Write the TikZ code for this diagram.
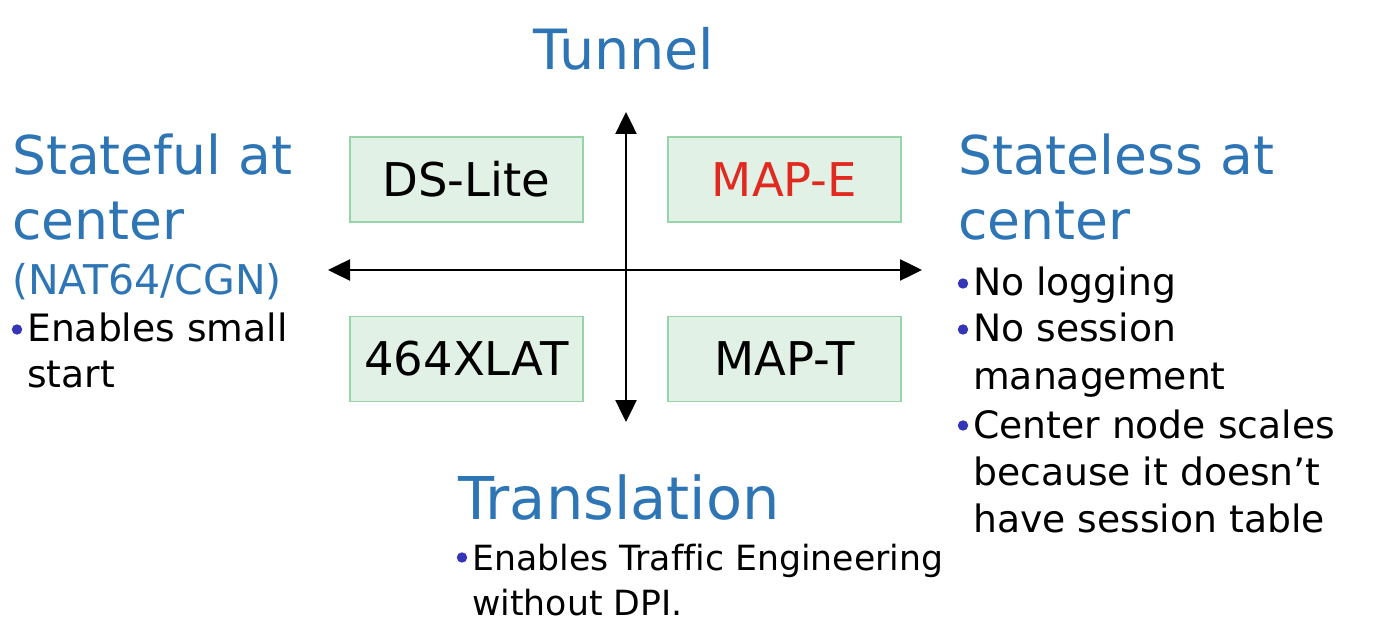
\documentclass[tikz,border=0pt]{standalone}
\usepackage{fontspec}
\setmainfont{DejaVu Sans}[Ligatures=NoCommon]
\usetikzlibrary{arrows.meta}
\definecolor{ttl}{HTML}{2E75B6}
\definecolor{redt}{HTML}{E02A1F}
\definecolor{bulc}{HTML}{3535B8}
\definecolor{boxfill}{HTML}{E2F1E6}
\definecolor{boxline}{HTML}{98D4AA}
\tikzset{
  ttlA/.style={font=\fontsize{53.5}{53.5}\selectfont, text=ttl, anchor=base west, inner sep=0pt},
  ttlS/.style={font=\fontsize{41}{41}\selectfont, text=ttl, anchor=base west, inner sep=0pt},
  txtL/.style={font=\fontsize{37.7}{37.7}\selectfont, text=black, anchor=base west, inner sep=0pt},
  txtR/.style={font=\fontsize{37.7}{37.7}\selectfont, text=black, anchor=base west, inner sep=0pt},
  txtB/.style={font=\fontsize{34.7}{34.7}\selectfont, text=black, anchor=base west, inner sep=0pt},
  bulletdot/.style={fill=bulc},
  quad/.style={draw=boxline, fill=boxfill, line width=1.3pt, minimum width=233pt, minimum height=85pt, inner sep=0pt, font=\fontsize{46.5}{46.5}\selectfont},
  axis/.style={line width=2.5pt, {Triangle[length=22pt,width=21pt]}-{Triangle[length=22pt,width=21pt]}}
}
\begin{document}
\begin{tikzpicture}[x=1pt,y=-1pt]
\useasboundingbox (0,0) rectangle (1382,636);
% boxes
\node[quad] (ds) at (466.5,179.5) {DS-Lite};
\node[quad, text=redt] (mape) at (784.5,179.5) {MAP-E};
\node[quad] (xlat) at (466.5,359) {464XLAT};
\node[quad] (mapt) at (784.5,359) {MAP-T};
% axes
\coordinate (up) at (626,112);
\coordinate (down) at (626,422);
\coordinate (left) at (328,270);
\coordinate (right) at (922,270);
\draw[axis] (left) -- (right);
\draw[axis] (up) -- (down);
% top
\node[font=\fontsize{55.5}{55.5}\selectfont, text=ttl, anchor=base, inner sep=0pt] (tunnel) at (624,70) {Tunnel};
% left
\node[ttlA] (sf1) at (12,175) {Stateful at};
\node[ttlA] (sf2) at (12,240) {center};
\node[ttlS] (nat) at (12,295) {(NAT64/CGN)};
\node[txtL] (l1) at (27,342) {Enables small};
\node[txtL] (l2) at (27,388) {start};
% right
\node[ttlA] (sl1) at (958,175) {Stateless at};
\node[ttlA] (sl2) at (958,240) {center};
\node[txtR] (r1) at (973,296) {No logging};
\node[txtR] (r2) at (973,342) {No session};
\node[txtR] (r3) at (973,389) {management};
\node[txtR] (r4) at (973,438) {Center node scales};
\node[txtR] (r5) at (973,485) {because it doesn’t};
\node[txtR] (r6) at (973,532) {have session table};
% bottom
\node[font=\fontsize{59}{59}\selectfont, text=ttl, anchor=base west, inner sep=0pt] (trans) at (458,519) {Translation};
\node[txtB] (b1) at (472,570) {Enables Traffic Engineering};
\node[txtB] (b2) at (472,615) {without DPI.};
% bullets
\foreach \n in {l1,r1,r2,r4,b1}
  \fill[bulletdot] ([xshift=-10pt,yshift=12.5pt]\n.base west) circle (5.2pt);
\end{tikzpicture}
\end{document}
